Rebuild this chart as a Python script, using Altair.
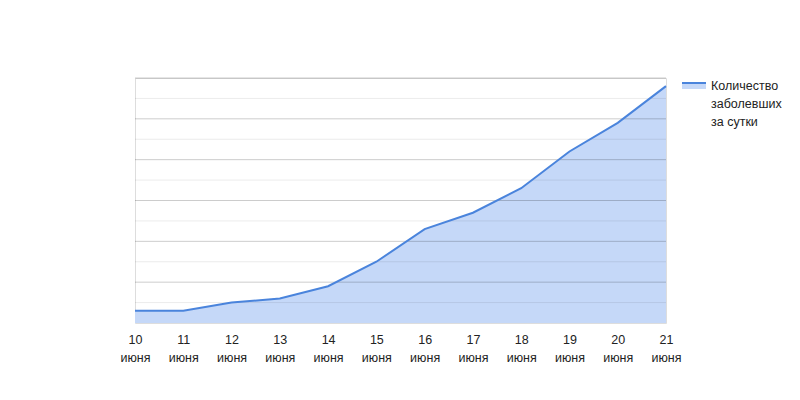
import altair as alt
import pandas as pd

days = [10, 11, 12, 13, 14, 15, 16, 17, 18, 19, 20, 21]
cases = [73, 73, 75, 76, 79, 85, 93, 97, 103, 112, 119, 128]
series_name = "Количество заболевших за сутки"
y_labels = [70, 80, 90, 100, 110, 120, 130]
major_grid = [80, 90, 100, 110, 120, 130]
minor_grid = [75, 85, 95, 105, 115, 125]
y_base = 70

df = pd.DataFrame({"day": days, "cases": cases, "series": [series_name] * len(days)})
df_major = pd.DataFrame({"v": major_grid})
df_minor = pd.DataFrame({"v": minor_grid})

x_enc = alt.X(
    "day:Q",
    scale=alt.Scale(domain=[10, 21], nice=False, zero=False),
    axis=alt.Axis(
        values=days,
        title=None,
        grid=False,
        domain=False,
        ticks=False,
        labelExpr="[datum.label, 'июня']",
        labelFontSize=12.5,
        labelColor="#222222",
        labelPadding=10,
        labelLineHeight=18,
        labelFlush=False,
        labelFont="Liberation Sans",
    ),
)
y_enc = alt.Y(
    "cases:Q",
    scale=alt.Scale(domain=[70, 130], nice=False, zero=False),
    axis=alt.Axis(
        values=y_labels,
        title=None,
        domain=False,
        ticks=False,
        grid=False,
        labelFontSize=12.5,
        labelColor="#444444",
        labelPadding=14,
        labelFont="Liberation Sans",
    ),
)

area = alt.Chart(df).mark_area(fillOpacity=1).encode(
    x=x_enc,
    y=y_enc,
    y2=alt.datum(y_base),
    fill=alt.Fill(
        "series:N",
        scale=alt.Scale(range=["#c5d8f8"]),
        legend=alt.Legend(
            title=None,
            orient="none",
            legendX=546,
            legendY=-11,
            symbolType="M-1,0.25L1,0.25L1,0.75L-1,0.75Z",
            symbolSize=576,
            symbolStrokeColor="#4a84dc",
            symbolStrokeWidth=2,
            symbolDash=[24, 200],
            symbolOpacity=1,
            labelExpr="['Количество', 'заболевших', 'за сутки']",
            labelFontSize=12.5,
            labelColor="#222222",
            labelLimit=300,
            labelFont="Liberation Sans",
            labelBaseline="top",
            labelOffset=4,
        ),
    ),
)

grid_major = alt.Chart(df_major).mark_rule(color="#000000", opacity=0.2, strokeWidth=1).encode(
    y=alt.Y("v:Q", axis=None),
)
grid_minor = alt.Chart(df_minor).mark_rule(color="#000000", opacity=0.08, strokeWidth=1).encode(
    y=alt.Y("v:Q", axis=None),
)

line = alt.Chart(df).mark_line(color="#4a84dc", strokeWidth=2).encode(
    x=alt.X("day:Q"),
    y=alt.Y("cases:Q"),
)

chart = alt.layer(area, grid_minor, grid_major, line).properties(
    width=531,
    height=245,
    padding={"left": 127, "top": 70, "right": 126, "bottom": 69},
    autosize=alt.AutoSizeParams(type="none"),
    background="white",
).configure_view(stroke=None).configure(style={"guide-label": {"lineHeight": 18}})

chart.save("out.html", embed_options={"renderer": "svg", "actions": False})
